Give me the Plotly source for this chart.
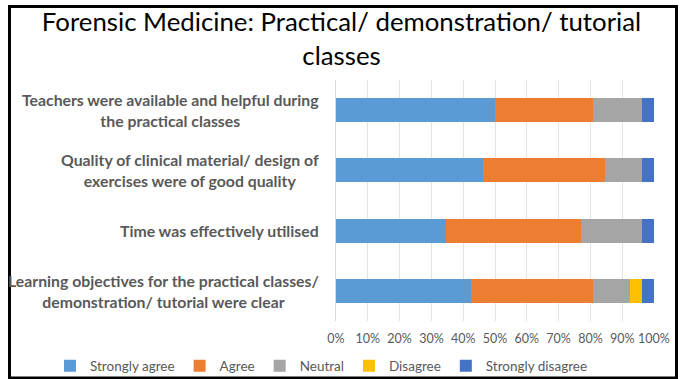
import plotly.graph_objects as go

# Survey statements (top to bottom as drawn)
statements = [
    "Teachers were available and helpful during<br>the practical classes",
    "Quality of clinical material/ design of<br>exercises were of good quality",
    "Time was effectively utilised",
    "Learning objectives for the practical classes/<br>demonstration/ tutorial were clear",
]

# Response shares (%) per statement
strongly_agree = [50.0, 46.2, 34.6, 42.3]
agree = [30.8, 38.5, 42.3, 38.5]
neutral = [15.4, 11.5, 19.2, 11.5]
disagree = [0.0, 0.0, 0.0, 3.8]
strongly_disagree = [3.8, 3.8, 3.8, 3.8]

series = [
    ("Strongly agree", strongly_agree, "#5B9BD5"),
    ("Agree", agree, "#ED7D31"),
    ("Neutral", neutral, "#A5A5A5"),
    ("Disagree", disagree, "#FFC000"),
    ("Strongly disagree", strongly_disagree, "#4472C4"),
]

x_ticks = list(range(0, 101, 10))
x_tick_text = [f"{v}%" for v in x_ticks]

fig = go.Figure()
for name, vals, color in series:
    fig.add_trace(go.Bar(
        y=statements, x=vals, name=name, orientation="h",
        marker=dict(color=color, line=dict(width=0)),
        hoverinfo="x+name",
    ))

W, H = 683, 379
L, R, T, B = 336, 29, 80, 58
pw, ph = W - L - R, H - T - B

def px_x(p):
    return (p - L) / pw

def px_y(p):
    return (H - B - p) / ph

# Category labels, centered multi-line text to the left of the plot
for s in statements:
    fig.add_annotation(
        x=px_x(321), xref="paper", y=s, yref="y",
        text=f"<b>{s}</b>", showarrow=False,
        xanchor="right", yanchor="middle", align="center",
        font=dict(family="Lato", size=15.8, color="#595959"),
    )

# Outer chart frame
fig.add_shape(
    type="rect", xref="paper", yref="paper",
    x0=px_x(9.5), x1=px_x(676.5), y0=px_y(378), y1=px_y(6.5),
    line=dict(color="black", width=3), fillcolor="rgba(0,0,0,0)",
    layer="above",
)

fig.update_layout(
    width=W, height=H,
    margin=dict(l=L, r=R, t=T, b=B, autoexpand=False),
    paper_bgcolor="white", plot_bgcolor="white",
    barmode="stack", bargap=0.6,
    title=dict(
        text="Forensic Medicine: Practical/ demonstration/ tutorial<br>classes",
        x=0.5, xref="container", xanchor="center",
        y=1 - 31 / H, yref="container", yanchor="middle",
        font=dict(family="Lato", size=25.8, color="black"),
        automargin=False,
    ),
    xaxis=dict(
        range=[0, 100], tickvals=x_ticks, ticktext=x_tick_text,
        showgrid=True, gridcolor="#E3E3E3", gridwidth=1,
        zeroline=False, showline=False, ticks="",
        ticklabelstandoff=8,
        tickfont=dict(family="Lato", size=12.5, color="#595959"),
        fixedrange=True,
    ),
    yaxis=dict(
        categoryorder="array", categoryarray=statements[::-1],
        showticklabels=False, ticks="", showgrid=False,
        showline=True, linecolor="#D9D9D9", linewidth=1,
        fixedrange=True,
    ),
    legend=dict(
        orientation="h", x=px_x(50), xref="paper", xanchor="left",
        y=px_y(366), yref="paper", yanchor="middle",
        font=dict(family="Lato", size=13.5, color="#595959"),
        itemwidth=30, traceorder="normal",
        bgcolor="rgba(0,0,0,0)",
    ),
    showlegend=True,
)

fig.write_html("out.html")
